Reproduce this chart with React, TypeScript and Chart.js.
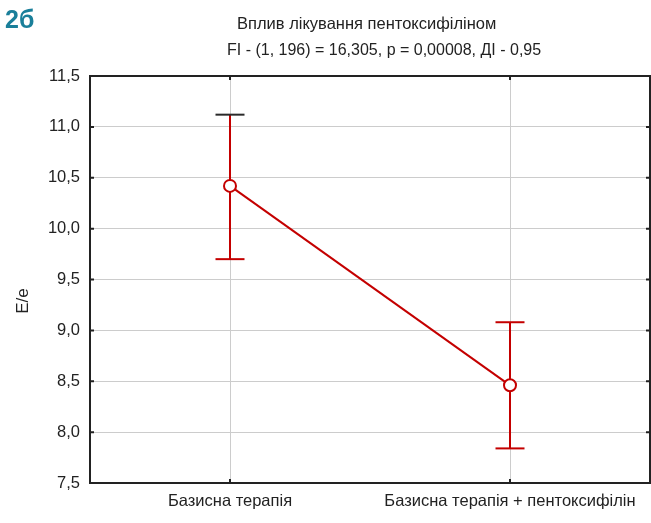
import React, { useEffect, useRef } from "react";
import { Chart, registerables } from "chart.js";

Chart.register(...registerables);

const categories = ["Базисна терапія", "Базисна терапія + пентоксифілін"];
const means = [10.42, 8.46];
const lowerCI = [9.7, 7.84];
const upperCI = [11.12, 9.08];
const yTicks = [7.5, 8.0, 8.5, 9.0, 9.5, 10.0, 10.5, 11.0, 11.5];

const titleLine1 = "Вплив лікування пентоксифіліном";
const titleLine2 = "FI - (1, 196) = 16,305, p = 0,00008, ДІ - 0,95";
const panelLabel = "2б";
const yAxisTitle = "E/e";

const RED = "#c40000";
const FONT = '"Liberation Sans Narrow", "Arial Narrow", "Liberation Sans", Arial, sans-serif';

const fmt = (v: number) => v.toFixed(1).replace(".", ",");

const decorPlugin = {
  id: "decor",
  beforeDatasetsDraw(chart: any) {
    const ctx = chart.ctx;
    const x = chart.scales.x;
    const y = chart.scales.y;
    ctx.save();
    ctx.lineWidth = 2;
    for (let i = 0; i < means.length; i++) {
      const px = x.getPixelForValue(i);
      const pl = y.getPixelForValue(lowerCI[i]);
      const pu = y.getPixelForValue(upperCI[i]);
      ctx.strokeStyle = RED;
      ctx.beginPath();
      ctx.moveTo(px, pl);
      ctx.lineTo(px, pu);
      ctx.stroke();
      ctx.strokeStyle = i === 0 ? "#2a2a2a" : RED;
      ctx.beginPath();
      ctx.moveTo(px - 14.5, pu);
      ctx.lineTo(px + 14.5, pu);
      ctx.stroke();
      ctx.strokeStyle = RED;
      ctx.beginPath();
      ctx.moveTo(px - 14.5, pl);
      ctx.lineTo(px + 14.5, pl);
      ctx.stroke();
    }
    ctx.restore();
  },
  afterDraw(chart: any) {
    const ctx = chart.ctx;
    const { left, right, top, bottom } = chart.chartArea;
    const x = chart.scales.x;
    const y = chart.scales.y;
    ctx.save();
    ctx.strokeStyle = "#222";
    ctx.lineWidth = 2;
    ctx.strokeRect(left, top, right - left, bottom - top);
    for (const t of yTicks) {
      const py = y.getPixelForValue(t);
      ctx.beginPath();
      ctx.moveTo(left, py);
      ctx.lineTo(left + 4, py);
      ctx.moveTo(right, py);
      ctx.lineTo(right - 4, py);
      ctx.stroke();
    }
    for (let i = 0; i < categories.length; i++) {
      const px = x.getPixelForValue(i);
      ctx.beginPath();
      ctx.moveTo(px, bottom);
      ctx.lineTo(px, bottom - 4);
      ctx.moveTo(px, top);
      ctx.lineTo(px, top + 4);
      ctx.stroke();
    }
    ctx.fillStyle = "#1a7f9a";
    ctx.font = 'bold 25px "Liberation Sans", Arial, sans-serif';
    ctx.textAlign = "left";
    ctx.textBaseline = "alphabetic";
    ctx.fillText(panelLabel, 5, 28);
    ctx.fillStyle = "#222";
    ctx.font = "16.5px " + FONT;
    ctx.fillText(titleLine1, 237, 29);
    ctx.font = "16px " + FONT;
    ctx.fillText(titleLine2, 227, 55);
    ctx.save();
    ctx.translate(28, 301);
    ctx.rotate(-Math.PI / 2);
    ctx.textAlign = "center";
    ctx.font = "17px " + FONT;
    ctx.fillText(yAxisTitle, 0, 0);
    ctx.restore();
    ctx.restore();
  },
};

export default function App() {
  const ref = useRef<HTMLCanvasElement>(null);
  useEffect(() => {
    if (!ref.current) return;
    const chart = new Chart(ref.current, {
      type: "line",
      data: {
        labels: categories,
        datasets: [
          {
            data: means,
            borderColor: RED,
            borderWidth: 2,
            backgroundColor: "#fff",
            pointBackgroundColor: "#fff",
            pointBorderColor: RED,
            pointBorderWidth: 2,
            pointRadius: 6,
            tension: 0,
          },
        ],
      },
      options: {
        animation: false,
        responsive: false,
        maintainAspectRatio: false,
        devicePixelRatio: 1,
        layout: { autoPadding: false, padding: { top: 76, right: 1, left: 0, bottom: 0 } },
        plugins: { legend: { display: false }, tooltip: { enabled: false } },
        scales: {
          x: {
            type: "category",
            offset: true,
            grid: { color: "#cccccc", lineWidth: 1, drawTicks: false, offset: false },
            border: { display: false },
            ticks: { color: "#222", font: { family: FONT, size: 16.5 }, padding: 9, maxRotation: 0 },
            afterFit: (s: any) => {
              s.height = 40;
              s.paddingLeft = 0;
              s.paddingRight = 0;
            },
          },
          y: {
            min: 7.5,
            max: 11.5,
            afterBuildTicks: (s: any) => {
              s.ticks = yTicks.map((v) => ({ value: v }));
            },
            grid: { color: "#cccccc", lineWidth: 1, drawTicks: false },
            border: { display: false },
            ticks: {
              color: "#222",
              font: { family: FONT, size: 16.5 },
              padding: 10,
              callback: (v: any) => fmt(Number(v)),
            },
            afterFit: (s: any) => {
              s.width = 90;
              s.paddingTop = 0;
              s.paddingBottom = 0;
            },
          },
        },
      },
      plugins: [decorPlugin],
    });
    return () => chart.destroy();
  }, []);
  return (
    <div style={{ position: "fixed", left: 0, top: 0, width: 651, height: 523, background: "#fff" }}>
      <canvas ref={ref} width={651} height={523} style={{ display: "block", width: 651, height: 523 }} />
    </div>
  );
}
